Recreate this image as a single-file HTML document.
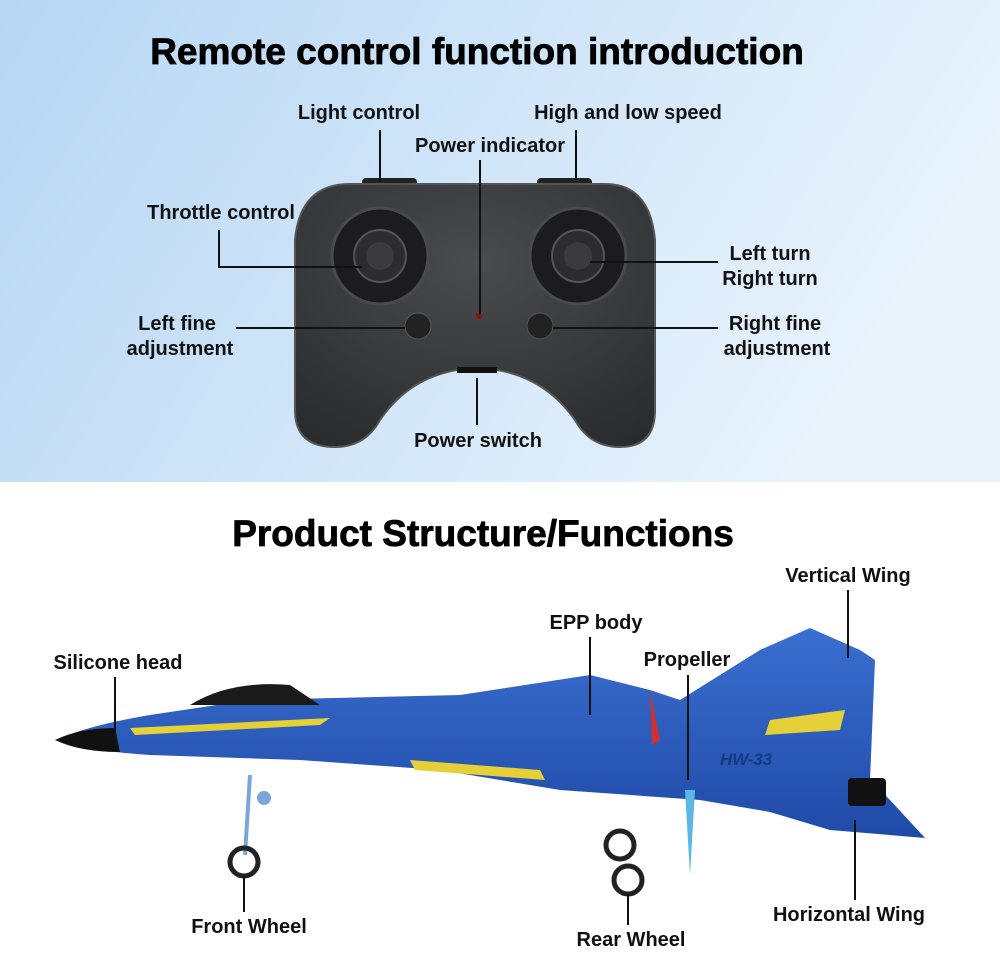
<!DOCTYPE html>
<html><head><meta charset="utf-8"><style>
body{margin:0;width:1000px;height:950px;overflow:hidden;background:#fff;font-family:"Liberation Sans",sans-serif}
</style></head><body>
<svg width="1000" height="950" xmlns="http://www.w3.org/2000/svg">
<defs>
<linearGradient id="bg" x1="0" y1="0" x2="1" y2="0.3">
<stop offset="0" stop-color="#b6d6f4"/><stop offset="1" stop-color="#e8f3fc"/></linearGradient>
<radialGradient id="ctl" cx="0.5" cy="0.3" r="0.8"><stop offset="0" stop-color="#4a4b4e"/><stop offset="1" stop-color="#2a2b2d"/></radialGradient>
<linearGradient id="blue" x1="0" y1="0" x2="0" y2="1"><stop offset="0" stop-color="#3a6fd0"/><stop offset="1" stop-color="#1f4aa8"/></linearGradient>
</defs>
<rect width="1000" height="482" fill="url(#bg)"/>
<g font-weight="bold" fill="#000">
<text x="477" y="64" font-size="37" text-anchor="middle" stroke="#000" stroke-width="0.8">Remote control function introduction</text>
<text x="483" y="546" font-size="37" text-anchor="middle" stroke="#000" stroke-width="0.8">Product Structure/Functions</text>
</g>
<!-- controller -->
<rect x="362" y="178" width="55" height="10" rx="4" fill="#222"/>
<rect x="537" y="178" width="55" height="10" rx="4" fill="#222"/>
<path d="M350 184 H605 Q650 184 655 240 L655 410 Q655 447 620 447 Q590 447 575 420 Q540 370 477 368 Q414 370 380 420 Q365 447 335 447 Q295 447 295 410 L295 240 Q300 184 350 184 Z" fill="url(#ctl)" stroke="#555" stroke-width="2"/>
<circle cx="380" cy="256" r="48" fill="#1c1c1e" stroke="#4a4a4d" stroke-width="3"/>
<circle cx="380" cy="256" r="26" fill="#2c2c2e" stroke="#555" stroke-width="2"/>
<circle cx="380" cy="256" r="14" fill="#3b3b3e"/>
<circle cx="578" cy="256" r="48" fill="#1c1c1e" stroke="#4a4a4d" stroke-width="3"/>
<circle cx="578" cy="256" r="26" fill="#2c2c2e" stroke="#555" stroke-width="2"/>
<circle cx="578" cy="256" r="14" fill="#3b3b3e"/>
<circle cx="418" cy="326" r="13" fill="#222" stroke="#555"/>
<circle cx="540" cy="326" r="13" fill="#222" stroke="#555"/>
<circle cx="479" cy="316" r="3" fill="#8a1010"/>
<rect x="457" y="367" width="40" height="6" fill="#111"/>
<!-- top labels -->
<g font-size="20" font-weight="bold" fill="#111">
<text x="359" y="119" text-anchor="middle">Light control</text>
<text x="628" y="119" text-anchor="middle">High and low speed</text>
<text x="490" y="152" text-anchor="middle">Power indicator</text>
<text x="221" y="219" text-anchor="middle">Throttle control</text>
<text x="770" y="260" text-anchor="middle">Left turn</text>
<text x="770" y="285" text-anchor="middle">Right turn</text>
<text x="177" y="330" text-anchor="middle">Left fine</text>
<text x="180" y="355" text-anchor="middle">adjustment</text>
<text x="775" y="330" text-anchor="middle">Right fine</text>
<text x="777" y="355" text-anchor="middle">adjustment</text>
<text x="478" y="447" text-anchor="middle">Power switch</text>
</g>
<g stroke="#111" stroke-width="2" fill="none">
<path d="M380 130 V182"/><path d="M576 130 V182"/><path d="M480 160 V314"/>
<path d="M219 230 V267 H362"/><path d="M590 262 H718"/>
<path d="M236 328 H405"/><path d="M553 328 H718"/><path d="M477 378 V425"/>
</g>
<!-- plane -->
<path d="M55 740 Q90 725 150 715 L250 700 L460 695 L590 675 L650 690 L680 700 L760 650 L810 628 L860 650 L875 660 L870 780 L890 800 L925 838 L830 830 L770 812 L700 800 L560 790 L440 770 L300 760 L150 755 Q80 750 55 740 Z" fill="url(#blue)"/>
<path d="M190 705 Q230 680 290 685 L320 705 Z" fill="#1a1a1a"/>
<path d="M55 740 Q80 728 115 728 L120 752 Q80 752 55 740 Z" fill="#111"/>
<path d="M130 728 L330 718 L320 725 L135 735 Z" fill="#e5d037"/>
<path d="M410 760 L540 770 L545 780 L415 770 Z" fill="#e5d037"/>
<path d="M770 720 L845 710 L840 730 L765 735 Z" fill="#e5d037"/>
<rect x="848" y="778" width="38" height="28" rx="4" fill="#111"/>
<path d="M650 690 L660 740 L652 745 Z" fill="#d03030"/>
<path d="M685 790 L695 790 L690 875 Z" fill="#5bb8e6"/>
<path d="M250 775 L245 855" stroke="#7aa7d8" stroke-width="4"/>
<circle cx="264" cy="798" r="7" fill="#7aa7d8"/>
<circle cx="244" cy="862" r="14" fill="none" stroke="#222" stroke-width="5"/>
<circle cx="620" cy="845" r="14" fill="none" stroke="#222" stroke-width="5"/>
<circle cx="628" cy="880" r="14" fill="none" stroke="#222" stroke-width="5"/>
<text x="720" y="765" font-size="17" font-weight="bold" font-style="italic" fill="#163a80">HW-33</text>
<g font-size="20" font-weight="bold" fill="#111">
<text x="118" y="669" text-anchor="middle">Silicone head</text>
<text x="596" y="629" text-anchor="middle">EPP body</text>
<text x="687" y="666" text-anchor="middle">Propeller</text>
<text x="848" y="582" text-anchor="middle">Vertical Wing</text>
<text x="249" y="933" text-anchor="middle">Front Wheel</text>
<text x="631" y="946" text-anchor="middle">Rear Wheel</text>
<text x="849" y="921" text-anchor="middle">Horizontal Wing</text>
</g>
<g stroke="#111" stroke-width="2">
<path d="M115 677 V740"/><path d="M590 637 V715"/><path d="M688 675 V780"/>
<path d="M848 590 V658"/><path d="M244 876 V912"/><path d="M628 894 V925"/><path d="M855 820 V900"/>
</g>
</svg>
</body></html>
